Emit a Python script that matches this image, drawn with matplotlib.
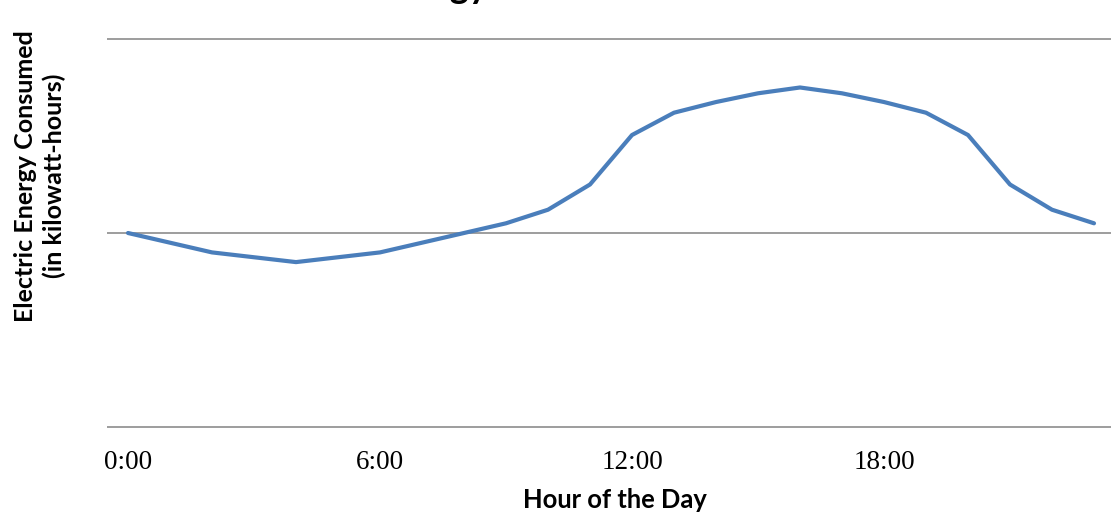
import matplotlib
matplotlib.use("Agg")
import matplotlib.pyplot as plt

hours = list(range(24))
energy = [1.00, 0.95, 0.90, 0.875, 0.85, 0.875, 0.90, 0.95, 1.00, 1.05, 1.12, 1.25,
          1.505, 1.62, 1.675, 1.72, 1.75, 1.72, 1.675, 1.62, 1.505, 1.25, 1.12, 1.05]
tick_pos = [0, 6, 12, 18]
tick_labels = ["0:00", "6:00", "12:00", "18:00"]
title = "Electric Energy Consumed in a Household"
xlabel = "Hour of the Day"
ylabel = "Electric Energy Consumed\n(in kilowatt-hours)"

W, H = 1111, 517
fig = plt.figure(figsize=(W / 100, H / 100), dpi=100)
fig.patch.set_facecolor("white")

ax = fig.add_axes([107 / W, (H - 430.9) / H, 1008 / W, 395.8 / H])
ax.plot(hours, energy, color="#4A7EBB", linewidth=3.0, solid_joinstyle="round",
        solid_capstyle="round")
ax.set_xlim(-0.5, 23.5)
ax.set_ylim(-0.02, 2.02)
ax.set_yticks([0, 1, 2])
ax.set_yticklabels([])
ax.tick_params(axis="y", length=0)
ax.yaxis.grid(True, color="#8c8c8c", linewidth=1.2)
ax.set_axisbelow(True)
for s in ax.spines.values():
    s.set_visible(False)
ax.set_xticks(tick_pos)
ax.set_xticklabels(tick_labels, fontfamily="Liberation Serif", fontsize=19.5)
ax.tick_params(axis="x", length=0, pad=14)

fig.text(615 / W, (H - 500) / H, xlabel, ha="center", va="center",
         fontfamily="Lato", fontweight="bold", fontsize=18.4)
fig.text(40 / W, (H - 176) / H, ylabel, ha="center", va="center", rotation=90,
         multialignment="center", fontfamily="Lato", fontweight="bold", fontsize=18,
         linespacing=1.3)
fig.text(582 / W, 1.0 + 2 / H, title, ha="center", va="baseline",
         fontfamily="Lato", fontweight="bold", fontsize=26)

fig.savefig("out.png", dpi=100, facecolor="white")
